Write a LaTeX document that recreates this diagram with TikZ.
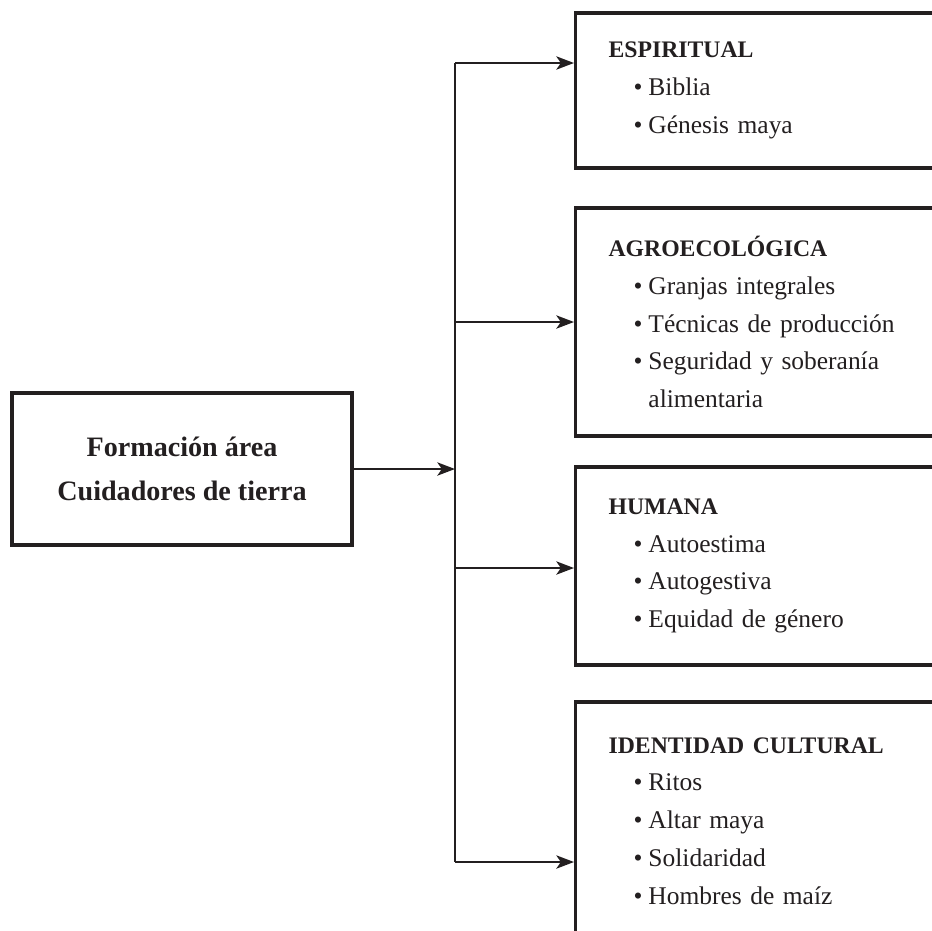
\documentclass[tikz,border=0pt]{standalone}
\usepackage{fontspec}
\setmainfont{Liberation Serif}
\usetikzlibrary{arrows.meta}
\definecolor{ink}{RGB}{35,31,32}
\tikzset{
  mainbox/.style={draw=ink,line width=1.8pt,minimum width=6.8cm,minimum height=3.04cm,
    align=center,text=ink,font=\fontsize{16}{25}\selectfont\bfseries},
  areabox/.style={draw=ink,line width=1.8pt,anchor=west,text width=6.1cm,inner xsep=0.66cm,
    align=left,text=ink,font=\fontsize{14.5}{21.5}\selectfont},
  link/.style={ink,line width=1.4pt},
  linkarrow/.style={link,-{Stealth[length=10pt,width=7.5pt,inset=2.5pt]}}
}
\newcommand{\head}[1]{{\fontsize{13.5}{21.5}\selectfont\bfseries #1}}
\newcommand{\bul}[1]{\\\hspace*{0.5cm}\textbullet\hspace{0.12cm}#1}
\newcommand{\bulcont}[1]{\\\hspace*{0.5cm}\phantom{\textbullet\hspace{0.12cm}}#1}
\begin{document}
\begin{tikzpicture}[x=0.02cm,y=-0.02cm]
  \path [use as bounding box,clip] (0,0) rectangle (932,930);
  % main box
  \node [mainbox] (area) at (182,469) {Formación área\\Cuidadores de tierra};
  % the four areas
  \node [areabox,minimum height=3.1cm] (espiritual) at (574,90.5)
    {\head{ESPIRITUAL}\bul{Biblia}\bul{Génesis maya}};
  \node [areabox,minimum height=4.56cm] (agro) at (574,322)
    {\head{AGROECOLÓGICA}\bul{Granjas integrales}\bul{Técnicas de producción}%
     \bul{Seguridad y soberanía}\bulcont{alimentaria}};
  \node [areabox,minimum height=3.96cm] (humana) at (574,566)
    {\head{HUMANA}\bul{Autoestima}\bul{Autogestiva}\bul{Equidad de género}};
  \node [areabox,minimum height=4.76cm] (identidad) at (574,821)
    {\head{IDENTIDAD CULTURAL}\bul{Ritos}\bul{Altar maya}\bul{Solidaridad}%
     \bul{Hombres de maíz}};
  % connectors
  \coordinate (bus) at (455,0);
  \coordinate (t1) at (455,63);
  \coordinate (t2) at (455,322);
  \coordinate (t3) at (455,568);
  \coordinate (t4) at (455,862);
  \draw [link] (t1) -- (t4);
  \draw [linkarrow] (area.east) -- (area.east -| bus);
  \draw [linkarrow] (t1) -- (t1 -| espiritual.west);
  \draw [linkarrow] (t2) -- (t2 -| agro.west);
  \draw [linkarrow] (t3) -- (t3 -| humana.west);
  \draw [linkarrow] (t4) -- (t4 -| identidad.west);
\end{tikzpicture}
\end{document}
